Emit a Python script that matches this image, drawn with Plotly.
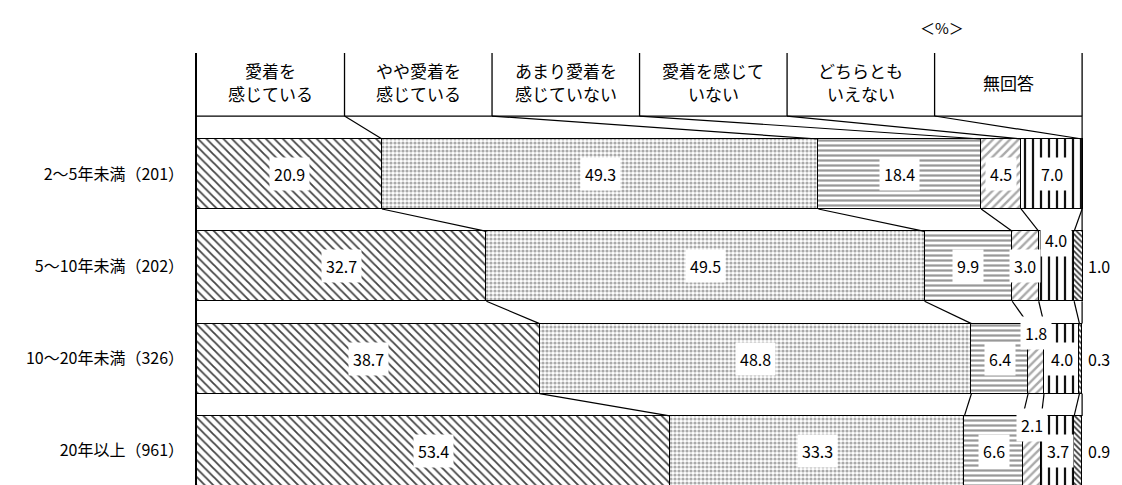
import plotly.graph_objects as go

# ---- data ----
rows = ["2～5年未満（201）", "5～10年未満（202）", "10～20年未満（326）", "20年以上（961）"]
categories = ["愛着を\n感じている", "やや愛着を\n感じている", "あまり愛着を\n感じていない",
              "愛着を感じて\nいない", "どちらとも\nいえない", "無回答"]
v_aichaku = [20.9, 32.7, 38.7, 53.4]
v_yaya = [49.3, 49.5, 48.8, 33.3]
v_amari = [18.4, 9.9, 6.4, 6.6]
v_nai = [4.5, 3.0, 1.8, 2.1]
v_dochira = [7.0, 4.0, 4.0, 3.7]
v_mukaito = [0.0, 1.0, 0.3, 0.9]
series = [v_aichaku, v_yaya, v_amari, v_nai, v_dochira, v_mukaito]
unit_label = "＜%＞"

# ---- style ----
FONT = "Noto Sans CJK JP"
patterns = [
    dict(shape="\\", size=6, solidity=0.3, fgcolor="#444444"),
    dict(shape=".", size=4, solidity=0.5, fgcolor="#aaaaaa"),
    dict(shape="-", size=5, solidity=0.45, fgcolor="#999999"),
    dict(shape="/", size=6, solidity=0.4, fgcolor="#aaaaaa"),
    dict(shape="|", size=8, solidity=0.28, fgcolor="#111111"),
    dict(shape="\\", size=4, solidity=0.45, fgcolor="#333333"),
]
BW = 0.758
HEAD_TOP = -1.311
HEAD_BOT = -0.628
Y_BOTTOM = 3.37
raised = {(1, 4), (2, 3), (3, 3)}   # labels lifted above small segments
outside = 5                          # 無回答 labels drawn to the right of the bar

ypos = list(range(len(rows)))
fig = go.Figure()
for k, vals in enumerate(series):
    pat = dict(patterns[k], bgcolor="white", fillmode="replace")
    fig.add_trace(go.Bar(
        y=ypos, x=vals, orientation="h", width=BW, name=categories[k].replace("\n", ""),
        marker=dict(color="white", pattern=pat, line=dict(color="black", width=1.3)),
        showlegend=False, hoverinfo="skip",
    ))

shapes = []
annotations = []
ncat = len(categories)
# header
for k in range(1, ncat + 1):
    xk = 100 * k / ncat
    shapes.append(dict(type="line", xref="x", yref="y", x0=xk, x1=xk, y0=HEAD_TOP, y1=HEAD_BOT,
                       line=dict(color="black", width=1.3)))
shapes.append(dict(type="line", xref="x", yref="y", x0=0, x1=100, y0=HEAD_BOT, y1=HEAD_BOT,
                   line=dict(color="black", width=1.3)))
hc = (HEAD_TOP + HEAD_BOT) / 2
for k, c in enumerate(categories):
    lines = c.split("\n")
    shifts = [14, -9] if len(lines) == 2 else [2]
    for ln, sh in zip(lines, shifts):
        annotations.append(dict(x=100 * (k + 0.5) / ncat, y=hc, xref="x", yref="y", yshift=sh,
                                text=ln, showarrow=False,
                                font=dict(family=FONT, size=17, color="black")))

# cumulative boundaries
cums = []
for i in range(len(rows)):
    c, acc = [], 0.0
    for k in range(ncat):
        acc += series[k][i]
        c.append(acc)
    cums.append(c)

# connectors header -> first bar
for k in range(ncat):
    shapes.append(dict(type="line", xref="x", yref="y",
                       x0=100 * (k + 1) / ncat, y0=HEAD_BOT,
                       x1=min(cums[0][k], 100), y1=ypos[0] - BW / 2,
                       line=dict(color="black", width=1.2)))
# connectors between bars
for i in range(len(rows) - 1):
    for k in range(ncat):
        shapes.append(dict(type="line", xref="x", yref="y",
                           x0=min(cums[i][k], 100), y0=ypos[i] + BW / 2,
                           x1=min(cums[i + 1][k], 100), y1=ypos[i + 1] - BW / 2,
                           line=dict(color="black", width=1.2)))

# value labels
for i in range(len(rows)):
    start = 0.0
    for k in range(ncat):
        v = series[k][i]
        mid = start + v / 2
        start += v
        if v <= 0:
            continue
        txt = f"{v:.1f}"
        if k == outside:
            annotations.append(dict(x=100, y=ypos[i], xref="x", yref="y", text=txt, showarrow=False,
                                    xanchor="left", xshift=4,
                                    font=dict(family=FONT, size=16, color="black")))
            continue
        ann = dict(x=mid, y=ypos[i], xref="x", yref="y", text=txt, showarrow=False,
                   bgcolor="white", borderpad=4, font=dict(family=FONT, size=16, color="black"))
        if (i, k) in raised:
            ann["yshift"] = 26
        annotations.append(ann)

annotations.append(dict(x=(966 - 197) / 886, y=1 + (53 - 15) / 432, xref="paper", yref="paper",
                        text=unit_label, showarrow=False, font=dict(family=FONT, size=15, color="black")))

fig.update_layout(
    barmode="stack", bargap=0,
    width=1122, height=485,
    margin=dict(l=197, r=39, t=53, b=0),
    paper_bgcolor="white", plot_bgcolor="white",
    shapes=shapes, annotations=annotations,
    font=dict(family=FONT, color="black"),
    xaxis=dict(range=[0, 100.1], visible=False, fixedrange=True),
    yaxis=dict(range=[Y_BOTTOM, HEAD_TOP], tickmode="array", tickvals=ypos, ticktext=rows,
               showline=True, linecolor="black", linewidth=1.5, showgrid=False, zeroline=False,
               ticks="", ticklabelstandoff=8, tickfont=dict(family=FONT, size=16, color="black")),
)
fig.write_html("out.html")
